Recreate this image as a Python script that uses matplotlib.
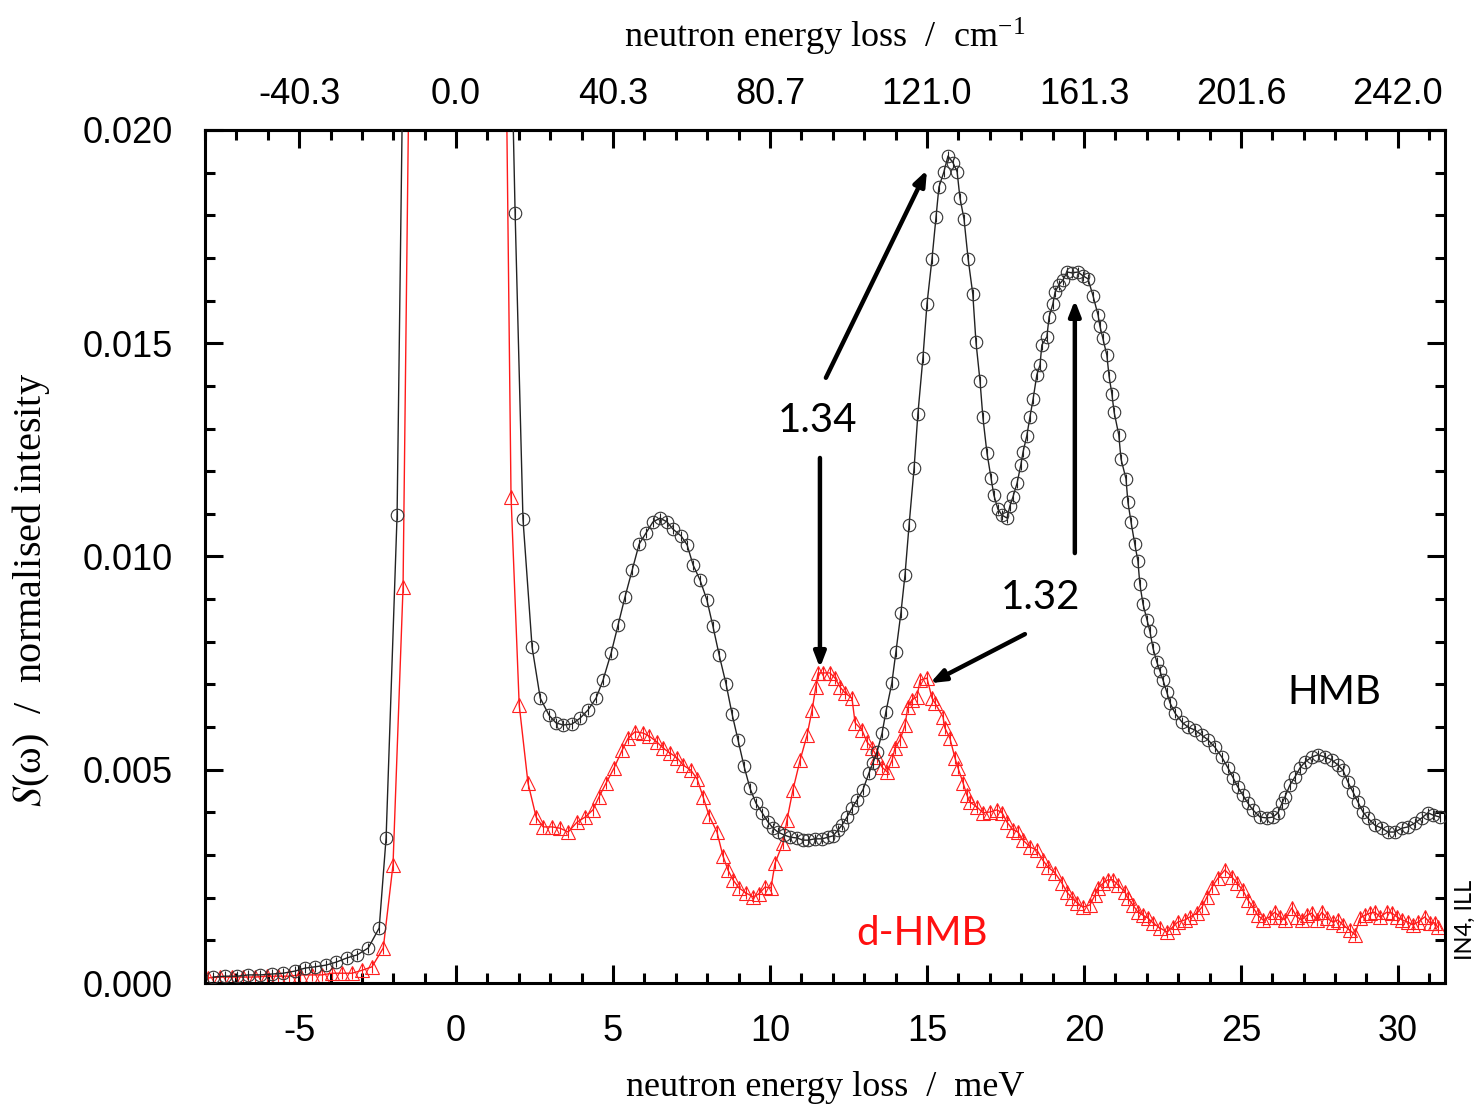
import numpy as np
import matplotlib
matplotlib.use("Agg")
import matplotlib.pyplot as plt
from matplotlib.ticker import MultipleLocator, FormatStrFormatter

# --- data (energy in meV, S in normalised units) ---
# points far above 0.020 are the clipped elastic line
hmb_energy = [
    -7.74, -7.36, -6.97, -6.62, -6.24, -5.86, -5.51, -5.13, -4.81, -4.49,
    -4.14, -3.82, -3.47, -3.15, -2.80, -2.45, -2.23, -1.88, -1.53, 0.00,
    1.50, 1.88, 2.13, 2.42, 2.68, 2.96, 3.18, 3.41, 3.69, 3.95,
    4.20, 4.46, 4.68, 4.94, 5.16, 5.38, 5.61, 5.83, 6.05, 6.27,
    6.50, 6.72, 6.91, 7.17, 7.36, 7.55, 7.77, 7.99, 8.18, 8.38,
    8.60, 8.79, 8.98, 9.17, 9.36, 9.55, 9.75, 9.94, 10.10, 10.25,
    10.45, 10.64, 10.86, 11.05, 11.21, 11.43, 11.66, 11.85, 12.01, 12.17,
    12.29, 12.45, 12.61, 12.77, 12.96, 13.15, 13.28, 13.41, 13.57, 13.69,
    13.88, 14.01, 14.17, 14.30, 14.43, 14.59, 14.71, 14.87, 15.00, 15.16,
    15.29, 15.38, 15.54, 15.67, 15.83, 15.96, 16.05, 16.18, 16.31, 16.46,
    16.56, 16.69, 16.78, 16.91, 17.04, 17.13, 17.26, 17.39, 17.55, 17.64,
    17.74, 17.87, 17.99, 18.06, 18.18, 18.28, 18.38, 18.50, 18.60, 18.66,
    18.82, 18.89, 19.01, 19.08, 19.20, 19.33, 19.46, 19.62, 19.81, 19.97,
    20.13, 20.29, 20.45, 20.51, 20.60, 20.73, 20.80, 20.89, 20.96, 21.11,
    21.18, 21.34, 21.40, 21.50, 21.62, 21.72, 21.78, 21.88, 22.01, 22.10,
    22.20, 22.32, 22.42, 22.52, 22.64, 22.74, 22.90, 23.12, 23.31, 23.54,
    23.76, 23.95, 24.17, 24.39, 24.59, 24.75, 24.90, 25.06, 25.22, 25.38,
    25.61, 25.83, 26.02, 26.18, 26.31, 26.40, 26.56, 26.72, 26.88, 27.04,
    27.26, 27.45, 27.68, 27.90, 28.09, 28.25, 28.41, 28.57, 28.73, 28.89,
    29.04, 29.27, 29.49, 29.68, 29.90, 30.13, 30.32, 30.54, 30.76, 30.96,
    31.11, 31.34,
]
hmb_s = [
    0.00014, 0.00016, 0.00016, 0.00019, 0.00019, 0.00021, 0.00023, 0.00028, 0.00035, 0.00038,
    0.00042, 0.00049, 0.00059, 0.00066, 0.00082, 0.00129, 0.00340, 0.01097, 0.0310, 0.0600,
    0.0310, 0.01805, 0.01088, 0.00788, 0.00668, 0.00628, 0.00610, 0.00605, 0.00607, 0.00621,
    0.00640, 0.00668, 0.00710, 0.00774, 0.00839, 0.00905, 0.00968, 0.01029, 0.01055, 0.01081,
    0.01090, 0.01081, 0.01064, 0.01048, 0.01027, 0.00980, 0.00945, 0.00898, 0.00837, 0.00769,
    0.00701, 0.00631, 0.00570, 0.00509, 0.00457, 0.00422, 0.00399, 0.00377, 0.00363, 0.00354,
    0.00347, 0.00342, 0.00340, 0.00335, 0.00335, 0.00338, 0.00338, 0.00342, 0.00345, 0.00359,
    0.00370, 0.00389, 0.00410, 0.00429, 0.00453, 0.00492, 0.00516, 0.00542, 0.00586, 0.00635,
    0.00703, 0.00776, 0.00868, 0.00957, 0.01074, 0.01208, 0.01334, 0.01465, 0.01592, 0.01698,
    0.01796, 0.01866, 0.01902, 0.01939, 0.01923, 0.01902, 0.01841, 0.01791, 0.01698, 0.01615,
    0.01503, 0.01411, 0.01327, 0.01243, 0.01184, 0.01144, 0.01111, 0.01097, 0.01090, 0.01118,
    0.01140, 0.01172, 0.01215, 0.01245, 0.01283, 0.01327, 0.01369, 0.01426, 0.01449, 0.01496,
    0.01515, 0.01562, 0.01592, 0.01620, 0.01637, 0.01648, 0.01667, 0.01665, 0.01667, 0.01658,
    0.01651, 0.01611, 0.01566, 0.01540, 0.01512, 0.01472, 0.01423, 0.01381, 0.01339, 0.01285,
    0.01229, 0.01182, 0.01128, 0.01081, 0.01029, 0.00989, 0.00936, 0.00889, 0.00851, 0.00825,
    0.00785, 0.00753, 0.00732, 0.00710, 0.00682, 0.00657, 0.00633, 0.00612, 0.00600, 0.00593,
    0.00581, 0.00570, 0.00553, 0.00530, 0.00504, 0.00481, 0.00460, 0.00441, 0.00422, 0.00406,
    0.00389, 0.00387, 0.00389, 0.00399, 0.00422, 0.00436, 0.00464, 0.00483, 0.00504, 0.00518,
    0.00530, 0.00535, 0.00530, 0.00523, 0.00511, 0.00499, 0.00471, 0.00448, 0.00424, 0.00401,
    0.00387, 0.00370, 0.00363, 0.00354, 0.00354, 0.00363, 0.00366, 0.00375, 0.00387, 0.00399,
    0.00394, 0.00389,
]

dhmb_energy = [
    -7.90, -7.52, -7.13, -6.78, -6.40, -6.02, -5.67, -5.32, -4.97, -4.59,
    -4.27, -3.95, -3.63, -3.31, -2.99, -2.68, -2.32, -2.01, -1.69, -1.35,
    0.00, 1.45, 1.75, 2.01, 2.29, 2.55, 2.77, 3.06, 3.31, 3.57,
    3.85, 4.11, 4.36, 4.55, 4.78, 5.03, 5.29, 5.48, 5.70, 5.96,
    6.15, 6.40, 6.59, 6.82, 7.04, 7.23, 7.48, 7.68, 7.87, 8.06,
    8.31, 8.50, 8.66, 8.82, 9.01, 9.24, 9.46, 9.65, 9.84, 10.03,
    10.16, 10.41, 10.54, 10.73, 10.96, 11.18, 11.34, 11.46, 11.53, 11.69,
    11.91, 12.07, 12.23, 12.39, 12.61, 12.71, 12.93, 13.09, 13.25, 13.41,
    13.57, 13.73, 13.89, 13.98, 14.14, 14.30, 14.39, 14.52, 14.68, 14.78,
    15.00, 15.16, 15.25, 15.51, 15.57, 15.73, 15.89, 15.99, 16.15, 16.27,
    16.37, 16.59, 16.78, 17.01, 17.23, 17.39, 17.55, 17.74, 17.90, 18.06,
    18.28, 18.50, 18.69, 18.85, 19.08, 19.30, 19.46, 19.62, 19.78, 19.97,
    20.19, 20.35, 20.45, 20.61, 20.76, 20.92, 21.08, 21.31, 21.40, 21.56,
    21.72, 21.88, 22.04, 22.20, 22.42, 22.64, 22.83, 22.99, 23.22, 23.38,
    23.60, 23.76, 23.92, 24.08, 24.27, 24.49, 24.71, 24.87, 25.06, 25.22,
    25.38, 25.54, 25.70, 25.92, 26.08, 26.24, 26.40, 26.62, 26.78, 26.94,
    27.10, 27.26, 27.42, 27.58, 27.74, 27.93, 28.09, 28.25, 28.47, 28.63,
    28.79, 28.95, 29.11, 29.27, 29.43, 29.65, 29.81, 29.97, 30.13, 30.32,
    30.48, 30.64, 30.86, 31.02, 31.18, 31.27,
]
dhmb_s = [
    0.00012, 0.00014, 0.00014, 0.00014, 0.00014, 0.00016, 0.00016, 0.00016, 0.00019, 0.00019,
    0.00019, 0.00023, 0.00023, 0.00023, 0.00030, 0.00038, 0.00082, 0.00277, 0.00928, 0.0310,
    0.0600, 0.0310, 0.01140, 0.00652, 0.00469, 0.00389, 0.00366, 0.00366, 0.00363, 0.00354,
    0.00377, 0.00389, 0.00406, 0.00436, 0.00469, 0.00504, 0.00546, 0.00574, 0.00589, 0.00586,
    0.00579, 0.00565, 0.00551, 0.00539, 0.00528, 0.00511, 0.00499, 0.00478, 0.00436, 0.00392,
    0.00354, 0.00298, 0.00265, 0.00242, 0.00223, 0.00211, 0.00202, 0.00209, 0.00225, 0.00223,
    0.00281, 0.00328, 0.00382, 0.00453, 0.00523, 0.00581, 0.00640, 0.00694, 0.00727, 0.00727,
    0.00727, 0.00715, 0.00694, 0.00680, 0.00668, 0.00610, 0.00593, 0.00565, 0.00551, 0.00530,
    0.00506, 0.00495, 0.00523, 0.00551, 0.00570, 0.00605, 0.00647, 0.00664, 0.00671, 0.00710,
    0.00715, 0.00668, 0.00657, 0.00624, 0.00598, 0.00574, 0.00528, 0.00504, 0.00469, 0.00441,
    0.00424, 0.00413, 0.00399, 0.00401, 0.00406, 0.00399, 0.00377, 0.00359, 0.00354, 0.00335,
    0.00319, 0.00312, 0.00288, 0.00272, 0.00258, 0.00234, 0.00213, 0.00199, 0.00188, 0.00178,
    0.00183, 0.00206, 0.00223, 0.00234, 0.00242, 0.00242, 0.00230, 0.00213, 0.00199, 0.00183,
    0.00166, 0.00159, 0.00152, 0.00141, 0.00129, 0.00120, 0.00131, 0.00143, 0.00148, 0.00155,
    0.00164, 0.00178, 0.00202, 0.00225, 0.00246, 0.00265, 0.00249, 0.00234, 0.00218, 0.00195,
    0.00178, 0.00159, 0.00148, 0.00155, 0.00166, 0.00155, 0.00148, 0.00176, 0.00155, 0.00148,
    0.00159, 0.00164, 0.00148, 0.00166, 0.00152, 0.00143, 0.00148, 0.00136, 0.00124, 0.00113,
    0.00152, 0.00159, 0.00164, 0.00166, 0.00155, 0.00166, 0.00164, 0.00155, 0.00148, 0.00143,
    0.00136, 0.00143, 0.00155, 0.00141, 0.00141, 0.00131,
]
hmb_err = 0.00012
dhmb_err = 0.00014

MEV_TO_CM = 8.0655

plt.rcParams['mathtext.fontset'] = 'stix'
plt.rcParams['axes.unicode_minus'] = False

fig = plt.figure(figsize=(14.82, 11.08), dpi=100)
ax = fig.add_axes([0.1383, 0.1128, 0.8367, 0.7699])

ax.errorbar(dhmb_energy, dhmb_s, yerr=dhmb_err, fmt='-^', color='#ff1a1a', lw=1.0,
            ms=10, mfc='none', mec='#ff2020', mew=0.8, elinewidth=0.8, capsize=0,
            zorder=2)
ax.errorbar(hmb_energy, hmb_s, yerr=hmb_err, fmt='-o', color='#222222', lw=1.0,
            ms=9, mfc='none', mec='#333333', mew=0.8, elinewidth=0.8, capsize=0,
            zorder=3)

ax.set_xlim(-8.0, 31.5)
ax.set_ylim(0, 0.020)

# --- axes styling ---
ax.xaxis.set_major_locator(MultipleLocator(5))
ax.xaxis.set_minor_locator(MultipleLocator(1))
ax.yaxis.set_major_locator(MultipleLocator(0.005))
ax.yaxis.set_minor_locator(MultipleLocator(0.001))
ax.yaxis.set_major_formatter(FormatStrFormatter('%.3f'))
for sp in ax.spines.values():
    sp.set_linewidth(2.2)
ax.tick_params(which='both', direction='in', width=2.2, top=False, right=True,
               labelsize=26, labelfontfamily='Liberation Sans')
ax.tick_params(which='major', length=13)
ax.tick_params(which='minor', length=7)
ax.tick_params(axis='x', pad=22)
ax.tick_params(axis='y', pad=23)

secax = ax.secondary_xaxis('top', functions=(lambda e: e * MEV_TO_CM,
                                              lambda c: c / MEV_TO_CM))
top_ticks = np.arange(-5, 31, 5) * MEV_TO_CM
secax.set_xticks(top_ticks)
secax.set_xticklabels([f'{t:.1f}' for t in top_ticks])
secax.xaxis.set_minor_locator(MultipleLocator(MEV_TO_CM))
secax.spines['top'].set_linewidth(2.2)
secax.tick_params(which='both', direction='in', width=2.2, labelsize=26,
                  labelfontfamily='Liberation Sans', pad=13)
secax.tick_params(which='major', length=13)
secax.tick_params(which='minor', length=7)

ax.set_xlabel('neutron energy loss  /  meV', fontfamily='Liberation Serif',
              fontsize=26, labelpad=16)
secax.set_xlabel('neutron energy loss  /  cm$^{\\mathregular{-1}}$',
                 fontfamily='Liberation Serif', fontsize=26, labelpad=22)
ax.set_ylabel('$S$(ω)  /  normalised intesity', fontfamily='Liberation Serif',
              fontsize=29)
ax.yaxis.set_label_coords(-0.123, 0.461)

# --- annotations ---
arrow = dict(arrowstyle='-|>,head_length=0.9,head_width=0.35', color='black',
             lw=3.2, shrinkA=0, shrinkB=0)
ax.annotate('', xy=(15.0, 0.01906), xytext=(11.78, 0.01419), arrowprops=arrow)
ax.annotate('', xy=(11.59, 0.00739), xytext=(11.59, 0.01231), arrowprops=arrow)
ax.annotate('', xy=(19.71, 0.01601), xytext=(19.71, 0.01008), arrowprops=arrow)
ax.annotate('', xy=(15.10, 0.00703), xytext=(18.12, 0.00818), arrowprops=arrow)

ax.text(11.50, 0.01318, '1.34', fontsize=29, fontfamily='Lato',
        ha='center', va='center')
ax.text(18.63, 0.00905, '1.32', fontsize=29, fontfamily='Lato',
        ha='center', va='center')
ax.text(27.99, 0.00682, 'HMB', fontsize=29, fontfamily='Lato',
        ha='center', va='center')
ax.text(14.84, 0.00117, 'd-HMB', fontsize=29, fontfamily='Lato', color='#ff1010',
        ha='center', va='center')
fig.text(0.989, 0.170, 'IN4, ILL', fontsize=17, fontfamily='Lato', rotation=90,
         ha='center', va='center')

fig.savefig('out.png', dpi=100, facecolor='white')
